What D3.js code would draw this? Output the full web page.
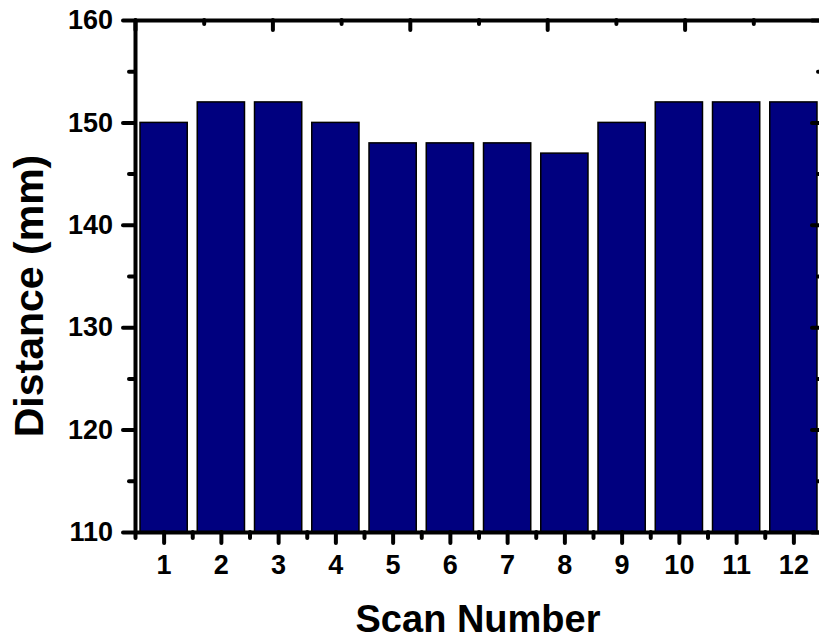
<!DOCTYPE html>
<html>
<head>
<meta charset="utf-8">
<script src="https://cdn.jsdelivr.net/npm/d3@7"></script>
<style>
  body { margin: 0; background: #fff; }
  svg { display: block; font-family: "Liberation Sans", Arial, sans-serif; }
  .axis path, .axis line { stroke: #000; stroke-width: 4; stroke-linecap: round; }
  .axis text { font-size: 27px; font-weight: bold; fill: #000; }
</style>
</head>
<body>
<svg id="chart" width="819" height="641"></svg>
<script>
// Data
const scans = [1, 2, 3, 4, 5, 6, 7, 8, 9, 10, 11, 12];
const distances = [150, 152, 152, 150, 148, 148, 148, 147, 150, 152, 152, 152];
const yTicks = [110, 120, 130, 140, 150, 160];
const yMinorTicks = [115, 125, 135, 145, 155];

// Size of the chart and margins
const size = {
    width: 819,
    height: 641,
    margin: { top: 20, right: -3, bottom: 109, left: 135 }
};
const plotLeft = size.margin.left;
const plotRight = size.width - size.margin.right;
const plotTop = size.margin.top;
const plotBottom = size.height - size.margin.bottom;

const svg = d3.select("#chart");

// Scales
const xBand = d3.scaleBand()
    .domain(scans)
    .range([plotLeft, plotRight])
    .paddingInner(0.175)
    .paddingOuter(0.0875);

const xLin = d3.scaleLinear()
    .domain([0.5, scans.length + 0.5])
    .range([plotLeft, plotRight]);

const yScale = d3.scaleLinear()
    .domain([110, 160])
    .range([plotBottom, plotTop]);

// Top axis uses its own scale (no labels)
const xTop = d3.scaleLinear().domain([0, 5]).range([plotLeft, plotRight]);

// Draw bars
svg.append("g")
    .selectAll("rect")
    .data(scans.map((s, i) => ({ scan: s, value: distances[i] })))
    .join("rect")
    .attr("x", d => xBand(d.scan))
    .attr("y", d => yScale(d.value))
    .attr("width", xBand.bandwidth())
    .attr("height", d => plotBottom - yScale(d.value))
    .attr("fill", "#00007f")
    .attr("stroke", "#000")
    .attr("stroke-width", 1.5);

// Bottom axis: major ticks at bar centres, minor ticks between bars
svg.append("g")
    .attr("class", "axis")
    .attr("transform", `translate(0, ${plotBottom})`)
    .call(d3.axisBottom(xLin).tickValues(scans).tickFormat(d3.format("d"))
        .tickSize(11).tickSizeOuter(0).tickPadding(12));

svg.append("g")
    .attr("class", "axis")
    .attr("transform", `translate(0, ${plotBottom})`)
    .call(d3.axisBottom(xLin).tickValues(scans.map(s => s - 0.5)).tickFormat("")
        .tickSize(6).tickSizeOuter(0))
    .select(".domain").remove();

// Left axis
svg.append("g")
    .attr("class", "axis")
    .attr("transform", `translate(${plotLeft}, 0)`)
    .call(d3.axisLeft(yScale).tickValues(yTicks).tickSize(12).tickSizeOuter(0).tickPadding(10));

svg.append("g")
    .attr("class", "axis")
    .attr("transform", `translate(${plotLeft}, 0)`)
    .call(d3.axisLeft(yScale).tickValues(yMinorTicks).tickFormat("").tickSize(6).tickSizeOuter(0))
    .select(".domain").remove();

// Right axis (ticks inward)
svg.append("g")
    .attr("class", "axis")
    .attr("transform", `translate(${plotRight}, 0)`)
    .call(d3.axisRight(yScale).tickValues(yTicks).tickFormat("").tickSize(-10).tickSizeOuter(0));

svg.append("g")
    .attr("class", "axis")
    .attr("transform", `translate(${plotRight}, 0)`)
    .call(d3.axisRight(yScale).tickValues(yMinorTicks).tickFormat("").tickSize(-4).tickSizeOuter(0))
    .select(".domain").remove();

// Top axis (ticks inward)
svg.append("g")
    .attr("class", "axis")
    .attr("transform", `translate(0, ${plotTop})`)
    .call(d3.axisTop(xTop).tickValues([0, 1, 2, 3, 4, 5]).tickFormat("").tickSize(-10).tickSizeOuter(0));

svg.append("g")
    .attr("class", "axis")
    .attr("transform", `translate(0, ${plotTop})`)
    .call(d3.axisTop(xTop).tickValues([0.5, 1.5, 2.5, 3.5, 4.5]).tickFormat("").tickSize(-4).tickSizeOuter(0))
    .select(".domain").remove();

// Axis titles
svg.append("text")
    .attr("x", 478)
    .attr("y", 632)
    .attr("text-anchor", "middle")
    .attr("font-size", "38px")
    .attr("font-weight", "bold")
    .text("Scan Number");

svg.append("text")
    .attr("transform", "rotate(-90)")
    .attr("x", -296)
    .attr("y", 43)
    .attr("text-anchor", "middle")
    .attr("font-size", "41px")
    .attr("font-weight", "bold")
    .text("Distance (mm)");
</script>
</body>
</html>
